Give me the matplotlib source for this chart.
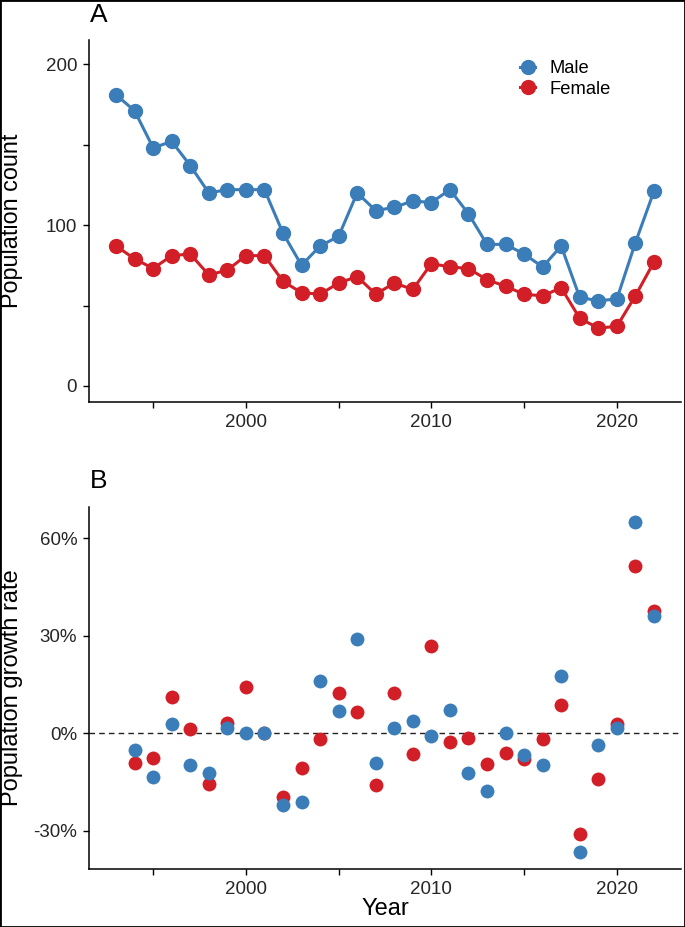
import numpy as np
import matplotlib
matplotlib.use("Agg")
import matplotlib.pyplot as plt
from matplotlib.ticker import FuncFormatter, MultipleLocator
from matplotlib.patches import Rectangle

plt.rcParams["font.family"] = ["Liberation Sans", "DejaVu Sans"]

# Population counts (panel A)
years = list(range(1993, 2023))
male_count = [181, 171, 148, 152, 137, 120, 122, 122, 122, 95,
              75, 87, 93, 120, 109, 111, 115, 114, 122, 107,
              88, 88, 82, 74, 87, 55, 53, 54, 89, 121]
female_count = [87, 79, 73, 81, 82, 69, 72, 81, 81, 65,
                58, 57, 64, 68, 57, 64, 60, 76, 74, 73,
                66, 62, 57, 56, 61, 42, 36, 37, 56, 77]

# Growth rates in percent (panel B), 1994-2022
rate_years = list(range(1994, 2023))
male_rate = [-5.3, -13.4, 2.7, -9.9, -12.4, 1.6, 0.0, 0.0, -22.1, -21.1,
             16.1, 6.9, 29.0, -9.1, 1.7, 3.6, -0.9, 7.1, -12.2, -17.7,
             0.1, -6.8, -9.7, 17.5, -36.7, -3.6, 1.7, 64.9, 36.1]
female_rate = [-9.1, -7.5, 11.1, 1.2, -15.7, 3.1, 14.1, 0.0, -19.6, -10.7,
               -1.7, 12.3, 6.4, -16.1, 12.3, -6.3, 26.7, -2.8, -1.4, -9.5,
               -6.2, -8.1, -1.7, 8.8, -31.0, -14.2, 2.9, 51.3, 37.5]

blue = "#3A7DB8"
red = "#D21F27"
tick_col = "#262626"

fig = plt.figure(figsize=(6.85, 9.27), dpi=100)
ax1 = fig.add_axes([0.1299, 0.5663, 0.864, 0.3905])
ax2 = fig.add_axes([0.1299, 0.0626, 0.864, 0.3905])


def style(ax):
    for s in ["top", "right"]:
        ax.spines[s].set_visible(False)
    for s in ["left", "bottom"]:
        ax.spines[s].set_linewidth(1.1)
    ax.tick_params(length=4.5, width=1.0, pad=4, labelsize=13.5,
                   labelcolor=tick_col)
    ax.set_xlim(1991.54, 2023.45)
    ax.xaxis.set_major_locator(MultipleLocator(5))
    ax.xaxis.set_major_formatter(
        FuncFormatter(lambda v, p: f"{int(v)}" if int(v) % 10 == 0 else ""))


# Panel A
style(ax1)
ax1.plot(years, male_count, color=blue, lw=2.2, marker="o", ms=10,
         label="Male", zorder=3)
ax1.plot(years, female_count, color=red, lw=2.2, marker="o", ms=10,
         label="Female", zorder=2)
ax1.set_ylim(-10, 215)
ax1.yaxis.set_major_locator(MultipleLocator(50))
ax1.yaxis.set_major_formatter(
    FuncFormatter(lambda v, p: f"{int(v)}" if int(v) % 100 == 0 else ""))
ax1.set_ylabel("Population count", fontsize=16.8)
ax1.yaxis.set_label_coords(-0.112, 0.5)
ax1.legend(loc="upper left", bbox_to_anchor=(0.707, 0.98), frameon=False,
           fontsize=13.2, handlelength=0.8, handletextpad=0.8,
           labelspacing=0.2, borderaxespad=0.3)
fig.text(0.131, 0.984, "A", fontsize=19, ha="left", va="center")

# Panel B
style(ax2)
ax2.axhline(0, color="#222222", lw=1.0, ls=(0, (4, 3)), zorder=1)
ax2.scatter(rate_years, female_rate, s=100, color=red, zorder=2,
            linewidths=0)
ax2.scatter(rate_years, male_rate, s=100, color=blue, zorder=3,
            linewidths=0)
ax2.set_ylim(-41.8, 69.6)
ax2.yaxis.set_major_locator(MultipleLocator(30))
ax2.yaxis.set_major_formatter(FuncFormatter(lambda v, p: f"{int(round(v))}%"))
ax2.set_ylabel("Population growth rate", fontsize=17)
ax2.yaxis.set_label_coords(-0.112, 0.5)
ax2.set_xlabel("Year", fontsize=17, labelpad=0)
fig.text(0.131, 0.481, "B", fontsize=19, ha="left", va="center")

# Outer frame
fig.patches.append(Rectangle((0, 0), 1, 1, transform=fig.transFigure,
                             fill=False, edgecolor="black", lw=2.0))

fig.savefig("out.png", dpi=100)
